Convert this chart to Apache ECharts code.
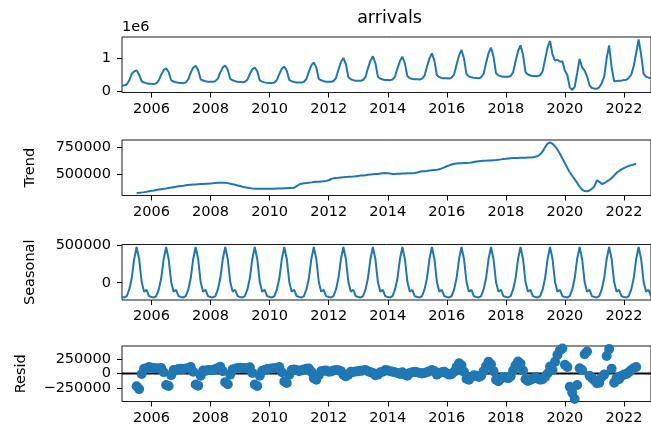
<!DOCTYPE html>
<html>
<head>
<meta charset="utf-8">
<script src="https://cdn.jsdelivr.net/npm/echarts@6/dist/echarts.min.js"></script>
<style>
  html, body { margin: 0; padding: 0; background: #ffffff; }
  #chart { width: 651px; height: 427px; }
</style>
</head>
<body>
<div id="chart"></div>
<script>
// Monthly arrivals, Jan 2005 - Dec 2022, with an additive seasonal decomposition.
const startYear = 2005;

const observed = [
  170000, 180000, 205000, 330000, 520000, 600000, 625000, 500000, 300000, 265000, 245000, 230000,
  225000, 222000, 240000, 330000, 500000, 640000, 690000, 580000, 330000, 295000, 270000, 255000,
  250000, 245000, 270000, 360000, 560000, 710000, 770000, 640000, 360000, 325000, 300000, 290000,
  290000, 285000, 305000, 380000, 570000, 720000, 775000, 650000, 370000, 330000, 305000, 290000,
  280000, 270000, 285000, 350000, 520000, 660000, 715000, 600000, 330000, 290000, 268000, 255000,
  250000, 245000, 265000, 340000, 520000, 680000, 745000, 620000, 340000, 300000, 278000, 265000,
  265000, 262000, 285000, 370000, 590000, 780000, 870000, 720000, 370000, 330000, 305000, 290000,
  290000, 288000, 310000, 400000, 650000, 880000, 1000000, 820000, 420000, 360000, 335000, 320000,
  320000, 318000, 340000, 430000, 690000, 920000, 1050000, 850000, 440000, 380000, 355000, 340000,
  340000, 335000, 355000, 440000, 690000, 910000, 1040000, 840000, 450000, 395000, 370000, 360000,
  360000, 355000, 380000, 470000, 740000, 990000, 1140000, 920000, 480000, 425000, 400000, 390000,
  390000, 385000, 410000, 510000, 800000, 1080000, 1240000, 990000, 510000, 450000, 420000, 410000,
  400000, 390000, 425000, 530000, 850000, 1150000, 1310000, 1050000, 540000, 480000, 450000, 440000,
  440000, 435000, 460000, 570000, 900000, 1210000, 1380000, 1100000, 570000, 505000, 475000, 460000,
  460000, 455000, 485000, 600000, 960000, 1320000, 1510000, 1100000, 920000, 950000, 890000, 900000,
  620000, 480000, 120000, 40000, 130000, 550000, 970000, 720000, 620000, 450000, 180000, 100000,
  80000, 80000, 120000, 250000, 430000, 1000000, 1380000, 720000, 300000, 310000, 320000, 320000,
  340000, 350000, 400000, 500000, 750000, 1150000, 1555000, 1100000, 520000, 440000, 410000, 400000
];

// Centred 12-month moving average: Jul 2005 - Jun 2022
const trendStartIndex = 6;
const trend = [
  320000, 322000, 325000, 328000, 332000, 336000,
  340000, 344000, 348000, 352000, 356000, 360000, 363000, 367000, 371000, 375000, 379000, 383000,
  386000, 389000, 392000, 395000, 397000, 399000, 401000, 403000, 404000, 405000, 407000, 408000,
  410000, 412000, 414000, 416000, 417000, 417000, 416000, 413000, 408000, 403000, 397000, 391000,
  385000, 379000, 374000, 370000, 366000, 363000, 361000, 360000, 359000, 359000, 360000, 360000,
  360000, 361000, 361000, 362000, 362000, 363000, 364000, 365000, 366000, 367000, 370000, 385000,
  400000, 408000, 411000, 414000, 417000, 420000, 423000, 425000, 427000, 429000, 431000, 434000,
  440000, 452000, 458000, 461000, 463000, 466000, 468000, 470000, 472000, 474000, 476000, 478000,
  481000, 484000, 486000, 488000, 491000, 494000, 496000, 498000, 500000, 503000, 506000, 508000,
  507000, 503000, 500000, 500000, 501000, 502000, 503000, 504000, 505000, 506000, 507000, 509000,
  514000, 520000, 524000, 526000, 528000, 531000, 534000, 537000, 540000, 544000, 552000, 562000,
  572000, 581000, 589000, 595000, 598000, 600000, 601000, 602000, 603000, 604000, 607000, 612000,
  617000, 620000, 622000, 624000, 625000, 626000, 627000, 629000, 631000, 634000, 637000, 640000,
  642000, 645000, 647000, 649000, 650000, 651000, 652000, 652000, 653000, 654000, 655000, 657000,
  662000, 670000, 685000, 712000, 752000, 785000, 796000, 785000, 760000, 728000, 690000, 645000,
  600000, 555000, 515000, 480000, 450000, 415000, 380000, 352000, 338000, 336000, 344000, 360000,
  385000, 440000, 425000, 405000, 412000, 428000, 442000, 460000, 485000, 510000, 527000, 542000,
  555000, 566000, 575000, 583000, 589000, 593000
];

const seasonal = [
  -192000, -198000, -180000, -90000, 60000, 320000, 480000, 320000, 10000, -120000, -95000, -180000,
  -192000, -198000, -180000, -90000, 60000, 320000, 480000, 320000, 10000, -120000, -95000, -180000,
  -192000, -198000, -180000, -90000, 60000, 320000, 480000, 320000, 10000, -120000, -95000, -180000,
  -192000, -198000, -180000, -90000, 60000, 320000, 480000, 320000, 10000, -120000, -95000, -180000,
  -192000, -198000, -180000, -90000, 60000, 320000, 480000, 320000, 10000, -120000, -95000, -180000,
  -192000, -198000, -180000, -90000, 60000, 320000, 480000, 320000, 10000, -120000, -95000, -180000,
  -192000, -198000, -180000, -90000, 60000, 320000, 480000, 320000, 10000, -120000, -95000, -180000,
  -192000, -198000, -180000, -90000, 60000, 320000, 480000, 320000, 10000, -120000, -95000, -180000,
  -192000, -198000, -180000, -90000, 60000, 320000, 480000, 320000, 10000, -120000, -95000, -180000,
  -192000, -198000, -180000, -90000, 60000, 320000, 480000, 320000, 10000, -120000, -95000, -180000,
  -192000, -198000, -180000, -90000, 60000, 320000, 480000, 320000, 10000, -120000, -95000, -180000,
  -192000, -198000, -180000, -90000, 60000, 320000, 480000, 320000, 10000, -120000, -95000, -180000,
  -192000, -198000, -180000, -90000, 60000, 320000, 480000, 320000, 10000, -120000, -95000, -180000,
  -192000, -198000, -180000, -90000, 60000, 320000, 480000, 320000, 10000, -120000, -95000, -180000,
  -192000, -198000, -180000, -90000, 60000, 320000, 480000, 320000, 10000, -120000, -95000, -180000,
  -192000, -198000, -180000, -90000, 60000, 320000, 480000, 320000, 10000, -120000, -95000, -180000,
  -192000, -198000, -180000, -90000, 60000, 320000, 480000, 320000, 10000, -120000, -95000, -180000,
  -192000, -198000, -180000, -90000, 60000, 320000, 480000, 320000, 10000, -120000, -95000, -180000
];

// Residuals: Jul 2005 - Jun 2022
const residStartIndex = 6;
const resid = [
  -220000, -270000, -10000, 80000, 90000, 110000,
  100000, 95000, 90000, 85000, 95000, 20000, -200000, -215000, -30000, 60000, 55000, 75000,
  80000, 75000, 85000, 90000, 110000, 30000, -190000, -210000, -40000, 50000, 45000, 60000,
  55000, 60000, 75000, 95000, 115000, 40000, -150000, -185000, -20000, 70000, 80000, 95000,
  100000, 95000, 90000, 95000, 105000, 10000, -190000, -215000, -40000, 45000, 60000, 75000,
  80000, 85000, 90000, 100000, 110000, 20000, -140000, -165000, -20000, 60000, 70000, 60000,
  40000, 55000, 70000, 80000, 85000, 30000, -80000, -110000, -30000, 40000, 45000, 50000,
  30000, 35000, 50000, 60000, 55000, 40000, -20000, -50000, -20000, 30000, 25000, 35000,
  40000, 45000, 50000, 60000, 40000, 20000, 10000, -30000, -20000, 20000, 30000, 60000,
  50000, 40000, 30000, 20000, 10000, -10000, 20000, -20000, -40000, 10000, 20000, 30000,
  20000, 10000, 0, 10000, 20000, 40000, 60000, 40000, -20000, 10000, 20000, 30000,
  0, -20000, -10000, 30000, 110000, 175000, 140000, 30000, -90000, -110000, -60000, -30000,
  -40000, -60000, -40000, 40000, 130000, 200000, 160000, 40000, -110000, -135000, -90000, -60000,
  -70000, -80000, -50000, 50000, 140000, 205000, 170000, 50000, -100000, -130000, -110000, -90000,
  -60000, -90000, -110000, -100000, -60000, 0, 120000, 60000, 200000, 320000, 400000, 430000,
  150000, 110000, -230000, -330000, -440000, -200000, 90000, 60000, 330000, 380000, -40000, -80000,
  -120000, -170000, -160000, -60000, -20000, 300000, 420000, 80000, -160000, -80000, -100000, -40000,
  -20000, -10000, 20000, 60000, 90000, 110000
];

const xTickYears = [2006, 2008, 2010, 2012, 2014, 2016, 2018, 2020, 2022];
const observedTicks = [0, 1000000];
const trendTicks = [500000, 750000];
const seasonalTicks = [0, 500000];
const residTicks = [-250000, 0, 250000];
const residOuterTicks = [-250000, 250000];
const residMiddleTicks = [0];
const panelNames = ['', 'Trend', 'Seasonal', 'Resid'];

// ---- build ----
const months = observed.map((_, i) => Date.UTC(startYear + Math.floor(i / 12), i % 12, 1));
const xTicks = xTickYears.map(y => Date.UTC(y, 0, 1));
const FONT = 'DejaVu Sans';
const BLUE = '#1f77b4';

function padded(values) {
  const lo = Math.min(...values), hi = Math.max(...values);
  const r = hi - lo;
  return [lo - 0.05 * r, hi + 0.05 * r];
}
const ranges = [padded(observed), padded(trend), padded(seasonal), padded(resid)];
const tickSets = [observedTicks, trendTicks, seasonalTicks, residTicks];
const labelSets = [observedTicks, trendTicks, seasonalTicks, residOuterTicks];

const gridLeft = 122, gridWidth = 534.6;
const tops = [37, 140, 244.5, 346];
const panelHeight = 55.5;

const grids = tops.map(t => ({
  left: gridLeft, top: t, width: gridWidth, height: panelHeight,
  show: true, borderColor: '#1a1a1a', borderWidth: 1, backgroundColor: 'transparent'
}));

const xAxes = tops.map((_, i) => ({
  type: 'value', gridIndex: i, position: 'bottom',
  min: months[0], max: months[months.length - 1],
  axisLine: { show: false, onZero: false },
  splitLine: { show: false },
  axisTick: { show: true, length: 5, inside: false, customValues: xTicks, lineStyle: { color: '#000', width: 1 } },
  axisLabel: {
    show: true, customValues: xTicks, margin: 9, hideOverlap: false,
    fontFamily: FONT, fontSize: 14.5, color: '#000',
    formatter: v => String(new Date(v).getUTCFullYear())
  }
}));

function fmt(v, i) {
  if (i === 0) return String(v / 1000000);
  return v < 0 ? '\u2212' + Math.abs(v) : String(v);
}

const labelStyle = { fontFamily: FONT, fontSize: 14.5, color: '#000' };
const nameGaps = [0, 84, 84, 93];
const yAxes = tops.map((_, i) => ({
  type: 'value', gridIndex: i, position: 'left',
  min: ranges[i][0], max: ranges[i][1],
  name: panelNames[i], nameLocation: 'middle', nameRotate: 90, nameGap: nameGaps[i],
  nameTextStyle: labelStyle,
  axisLine: { show: false, onZero: false },
  splitLine: { show: false },
  axisTick: { show: true, length: 5, customValues: tickSets[i], lineStyle: { color: '#000', width: 1 } },
  axisLabel: Object.assign({
    show: true, customValues: labelSets[i], margin: 11, hideOverlap: false,
    formatter: v => fmt(v, i)
  }, labelStyle)
}));
// The residual panel's middle label sits between its neighbours; a label-only axis keeps it visible.
yAxes.push({
  type: 'value', gridIndex: 3, position: 'left',
  min: ranges[3][0], max: ranges[3][1],
  axisLine: { show: false, onZero: false },
  splitLine: { show: false },
  axisTick: { show: false },
  axisLabel: Object.assign({
    show: true, customValues: residMiddleTicks, margin: 11, hideOverlap: false,
    formatter: v => fmt(v, 3)
  }, labelStyle)
});

const lineStyle = { color: BLUE, width: 2 };
const series = [
  {
    type: 'line', xAxisIndex: 0, yAxisIndex: 0, showSymbol: false, symbol: 'none',
    lineStyle, data: observed.map((v, i) => [months[i], v])
  },
  {
    type: 'line', xAxisIndex: 1, yAxisIndex: 1, showSymbol: false, symbol: 'none',
    lineStyle, data: trend.map((v, i) => [months[i + trendStartIndex], v])
  },
  {
    type: 'line', xAxisIndex: 2, yAxisIndex: 2, showSymbol: false, symbol: 'none',
    lineStyle, data: seasonal.map((v, i) => [months[i], v])
  },
  {
    type: 'line', xAxisIndex: 3, yAxisIndex: 3, showSymbol: false, symbol: 'none', z: 1,
    lineStyle: { color: '#000', width: 2 },
    data: [[months[0], 0], [months[months.length - 1], 0]]
  },
  {
    type: 'scatter', xAxisIndex: 3, yAxisIndex: 3, z: 3, symbol: 'circle', symbolSize: 10,
    itemStyle: { color: BLUE, opacity: 1 },
    data: resid.map((v, i) => [months[i + residStartIndex], v])
  }
];

const chart = echarts.init(document.getElementById('chart'), null, { renderer: 'canvas' });
chart.setOption({
  animation: false,
  backgroundColor: '#ffffff',
  title: {
    text: 'arrivals', left: 389.5, top: 9, padding: 0, textAlign: 'center',
    textStyle: { fontFamily: FONT, fontSize: 17.5, fontWeight: 'normal', color: '#000' }
  },
  graphic: [{
    type: 'text', left: 122, top: 20,
    style: { text: '1e6', font: '14.5px "DejaVu Sans"', fill: '#000' }
  }],
  grid: grids,
  xAxis: xAxes,
  yAxis: yAxes,
  series
});
</script>
</body>
</html>
